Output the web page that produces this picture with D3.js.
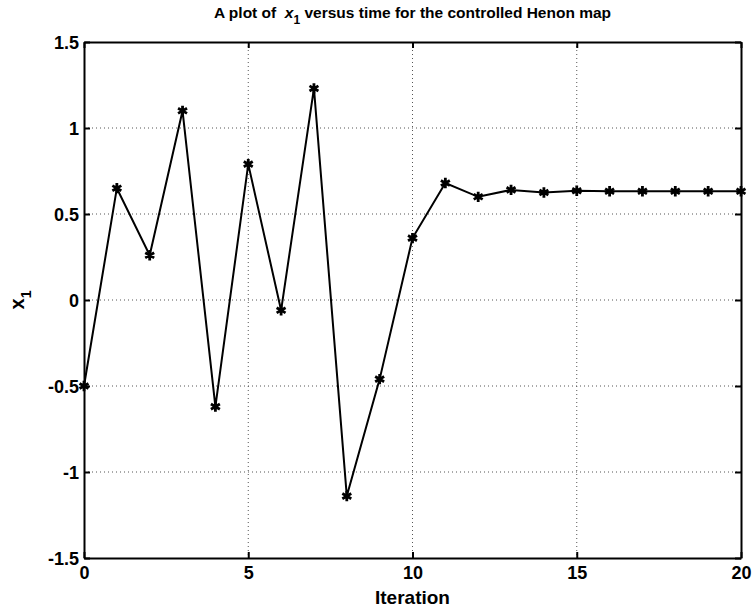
<!DOCTYPE html>
<html>
<head>
<meta charset="utf-8">
<script src="https://cdn.jsdelivr.net/npm/d3@7"></script>
<style>
  body { margin: 0; background: #fff; }
  svg { font-family: "Liberation Sans", Arial, Helvetica, sans-serif; }
  .tick text { font-size: 18px; font-weight: bold; fill: #000; }
</style>
</head>
<body>
<div id="chart"></div>
<script>
// values
const iterations = d3.range(0, 21);
const x1Values = [-0.50, 0.65, 0.26, 1.10, -0.62, 0.79, -0.06, 1.23, -1.14, -0.46,
                  0.36, 0.68, 0.60, 0.64, 0.625, 0.635, 0.632, 0.632, 0.632, 0.632, 0.632];
const xTicks = [0, 5, 10, 15, 20];
const yTicks = [-1.5, -1, -0.5, 0, 0.5, 1, 1.5];

const w = 756, h = 613;
const margin = {top: 42, right: 15, bottom: 55, left: 84};
const width = w - margin.left - margin.right,
      height = h - margin.top - margin.bottom;

const data = iterations.map((d, i) => ({it: d, v: x1Values[i]}));

let svg = d3.select("#chart").append("svg")
    .attr("width", w)
    .attr("height", h);

let g = svg.append("g")
    .attr("transform", "translate(" + margin.left + "," + margin.top + ")");

let x = d3.scaleLinear().domain([0, 20]).range([0, width]);
let y = d3.scaleLinear().domain([-1.5, 1.5]).range([height, 0]);

// grid
g.append("g").selectAll("line")
    .data(xTicks.slice(1, -1))
    .enter().append("line")
    .attr("x1", d => x(d)).attr("x2", d => x(d))
    .attr("y1", 0).attr("y2", height)
    .attr("stroke", "#555").attr("stroke-width", 1)
    .attr("stroke-dasharray", "1,3");

g.append("g").selectAll("line")
    .data(yTicks.slice(1, -1))
    .enter().append("line")
    .attr("x1", 0).attr("x2", width)
    .attr("y1", d => y(d)).attr("y2", d => y(d))
    .attr("stroke", "#555").attr("stroke-width", 1)
    .attr("stroke-dasharray", "1,3");

// axes with inward ticks (plain hyphen for negatives, like matlab)
let xAxis = g.append("g")
    .attr("transform", "translate(0," + height + ")")
    .call(d3.axisBottom(x).tickValues(xTicks).tickSizeInner(-6).tickSizeOuter(0).tickPadding(8));
let yAxis = g.append("g")
    .call(d3.axisLeft(y).tickValues(yTicks).tickFormat(d => String(d)).tickSizeInner(-6).tickSizeOuter(0).tickPadding(5));
let xTop = g.append("g")
    .call(d3.axisTop(x).tickValues(xTicks).tickSizeInner(-6).tickSizeOuter(0).tickFormat(""));
let yRight = g.append("g")
    .attr("transform", "translate(" + width + ",0)")
    .call(d3.axisRight(y).tickValues(yTicks).tickSizeInner(-6).tickSizeOuter(0).tickFormat(""));

[xAxis, yAxis, xTop, yRight].forEach(a => {
    a.selectAll(".domain").attr("stroke", "#000").attr("stroke-width", 2);
    a.selectAll(".tick line").attr("stroke", "#000").attr("stroke-width", 2);
});
yAxis.selectAll(".tick text").attr("dy", "0.35em");

// series
let line = d3.line().x(d => x(d.it)).y(d => y(d.v));
g.append("path")
    .datum(data)
    .attr("fill", "none")
    .attr("stroke", "#000")
    .attr("stroke-width", 2)
    .attr("d", line);

let star = d3.symbol().type(d3.symbolAsterisk).size(75);
g.selectAll("path.mark")
    .data(data)
    .enter().append("path")
    .attr("class", "mark")
    .attr("transform", d => "translate(" + x(d.it) + "," + y(d.v) + ")")
    .attr("d", star)
    .attr("fill", "none")
    .attr("stroke", "#000")
    .attr("stroke-width", 2.8);

// title
let title = svg.append("text")
    .attr("x", margin.left + width / 2)
    .attr("y", 18)
    .attr("text-anchor", "middle")
    .style("white-space", "pre")
    .style("font-size", "15.5px")
    .style("font-weight", "bold");
title.append("tspan").text("A plot of  ");
title.append("tspan").style("font-style", "italic").text("x");
title.append("tspan").attr("dy", 6).style("font-size", "12px").text("1");
title.append("tspan").attr("dy", -6).text(" versus time for the controlled Henon map");

// axis labels
svg.append("text")
    .attr("x", margin.left + width / 2)
    .attr("y", 604)
    .attr("text-anchor", "middle")
    .style("font-size", "19px")
    .style("font-weight", "bold")
    .text("Iteration");

let yl = svg.append("text")
    .attr("transform", "translate(24," + (margin.top + height / 2) + ") rotate(-90)")
    .attr("text-anchor", "middle")
    .style("font-size", "20px")
    .style("font-weight", "bold");
yl.append("tspan").text("x");
yl.append("tspan").attr("dy", 7).style("font-size", "14px").text("1");
</script>
</body>
</html>
